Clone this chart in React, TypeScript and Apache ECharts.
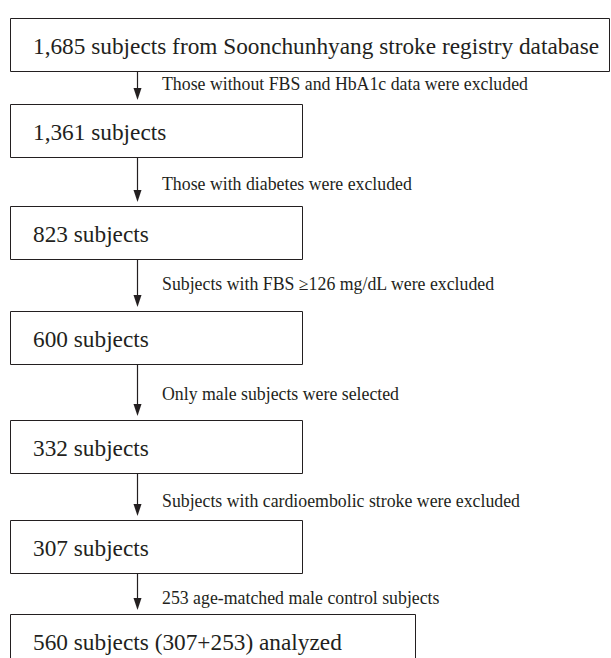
import React, { useEffect, useRef } from "react";
import * as echarts from "echarts";

const boxLabels = [
  "1,685 subjects from Soonchunhyang stroke registry database",
  "1,361 subjects",
  "823 subjects",
  "600 subjects",
  "332 subjects",
  "307 subjects",
  "560 subjects (307+253) analyzed",
];
const stepLabels = [
  "Those without FBS and HbA1c data were excluded",
  "Those with diabetes were excluded",
  "Subjects with FBS \u2265126 mg/dL were excluded",
  "Only male subjects were selected",
  "Subjects with cardioembolic stroke were excluded",
  "253 age-matched male control subjects",
];

// layout (px)
const boxTops = [18, 104, 206, 311, 420, 520, 614];
const boxWidths = [599, 292, 292, 292, 292, 292, 405];
const labelShift = [-4, 2, -1, 2, 4, 4];
const BOX_H = 53;
const BOX_X = 10.5;
const TEXT_X = 33;
const ARROW_X = 137.5;
const LABEL_X = 162;
const FONT = "Liberation Serif";
const INK = "#231f20";

export default function App() {
  const ref = useRef<HTMLDivElement>(null);
  useEffect(() => {
    if (!ref.current) return;
    const chart = echarts.init(ref.current, null, { renderer: "svg" });
    const elements: any[] = [];
    boxLabels.forEach((label, i) => {
      const top = boxTops[i] + 0.5;
      const last = i === boxLabels.length - 1;
      elements.push({
        type: "rect",
        shape: { x: BOX_X, y: top, width: boxWidths[i], height: last ? BOX_H + 20 : BOX_H },
        style: { fill: "#fff", stroke: INK, lineWidth: 1 },
      });
      elements.push({
        type: "text",
        x: TEXT_X,
        y: top + 27,
        style: {
          text: label,
          fontFamily: FONT,
          fontSize: 23.3,
          fill: INK,
          verticalAlign: "middle",
          align: "left",
        },
      });
    });
    stepLabels.forEach((label, i) => {
      const y0 = boxTops[i] + BOX_H + 0.5;
      const y1 = boxTops[i + 1] - 4;
      elements.push({
        type: "line",
        shape: { x1: ARROW_X, y1: y0, x2: ARROW_X, y2: y1 - 8 },
        style: { stroke: INK, lineWidth: 1.2 },
      });
      elements.push({
        type: "polygon",
        shape: {
          points: [
            [ARROW_X - 4, y1 - 12],
            [ARROW_X + 4, y1 - 12],
            [ARROW_X, y1],
          ],
        },
        style: { fill: INK },
      });
      elements.push({
        type: "text",
        x: LABEL_X,
        y: (y0 + boxTops[i + 1]) / 2 + labelShift[i],
        style: {
          text: label,
          fontFamily: FONT,
          fontSize: 17.8,
          fill: INK,
          verticalAlign: "middle",
          align: "left",
        },
      });
    });
    chart.setOption({
      animation: false,
      backgroundColor: "#fff",
      graphic: { elements },
    });
    return () => chart.dispose();
  }, []);
  return (
    <div
      ref={ref}
      style={{ position: "fixed", left: 0, top: 0, width: 611, height: 658 }}
    />
  );
}
